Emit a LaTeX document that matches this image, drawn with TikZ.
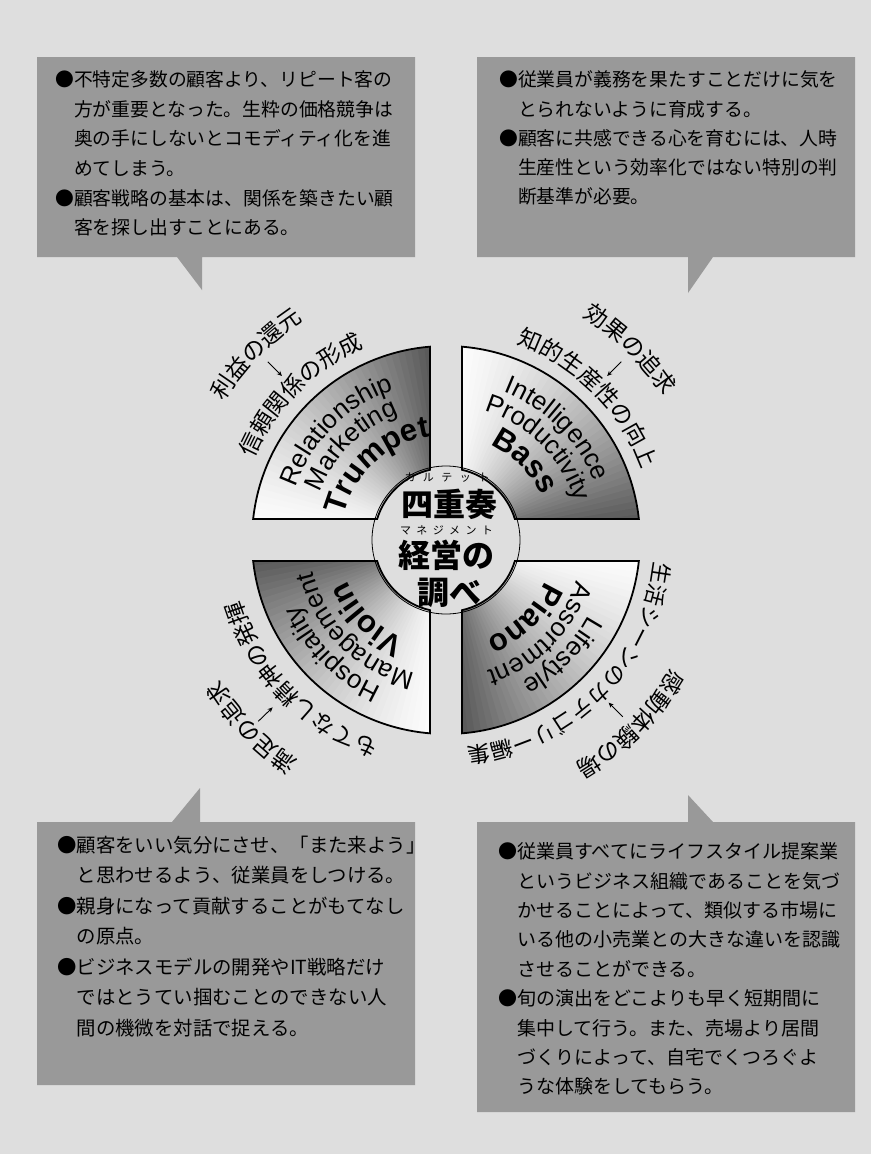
\documentclass[tikz,border=0pt]{standalone}
\usepackage{fontspec}
\setsansfont{Liberation Sans}
\newfontfamily\jp{Noto Sans CJK JP}
\usetikzlibrary{decorations.text,arrows.meta}
\tikzset{
  boxshape/.style={fill=black!40, draw=none},
  boxtext/.style={anchor=north west, inner sep=0pt, align=left, text=black},
  segline/.style={draw=black, line width=1.8pt},
  ringtext/.style={decorate, decoration={text along path, text align=center, text={#1}}},
  inarrow/.style={-{Stealth[length=5pt,width=4.5pt]}, line width=0.9pt},
  centertext/.style={inner sep=0pt, font=\jp\bfseries\fontsize{32}{32}\selectfont},
  rubytext/.style={inner sep=0pt, font=\jp\fontsize{11}{11}\selectfont},
}
% #1 xscale, #2 yscale, #3 reverse gradient (0/1)
\newcommand{\quadrant}[3]{%
 \begin{scope}[shift={(446,-540)}, xscale=#1, yscale=#2]
  \begin{scope}
   \clip (94.73:194pt) arc[start angle=94.73, end angle=173.79, radius=194pt] -- (163.04:72pt) arc[start angle=163.04, end angle=102.84, radius=72pt] -- cycle;
   \foreach \i in {0,...,45} {
     \pgfmathsetmacro\aa{180.4-2*\i}
     \pgfmathsetmacro\ab{178-2*\i-0.4}
     \pgfmathsetmacro\cc{min(66, 72*(abs(#3*45-\i)/45)^1.5)}
     \fill[black!\cc] (0,0) -- (\aa:200pt) arc[start angle=\aa, end angle=\ab, radius=200pt] -- cycle;
   }
  \end{scope}
  \draw[segline] (94.73:194pt) arc[start angle=94.73, end angle=173.79, radius=194pt] -- (163.04:72pt) arc[start angle=163.04, end angle=102.84, radius=72pt] -- cycle;
 \end{scope}}
\newcommand{\en}{\sffamily\fontsize{26}{26}\selectfont}
\newcommand{\enb}{\sffamily\bfseries\fontsize{31}{31}\selectfont}
\newcommand{\jl}{\jp\fontsize{23}{23}\selectfont}
\newcommand{\jls}{\jp\fontsize{22}{22}\selectfont}
\begin{document}
\begin{tikzpicture}[x=1pt,y=1pt]
\useasboundingbox (0,0) rectangle (871,-1154);
\fill[black!13] (0,0) rectangle (871,-1154);

% boxes
\fill[boxshape] (37,-57) -- (415,-57) -- (415,-257) -- (202,-257) -- (202,-290) -- (177,-257) -- (37,-257) -- cycle;
\fill[boxshape] (477,-57) -- (855,-57) -- (855,-257) -- (713,-257) -- (688,-293) -- (688,-257) -- (477,-257) -- cycle;
\fill[boxshape] (37,-822) -- (172,-822) -- (200,-788) -- (200,-822) -- (415,-822) -- (415,-1085) -- (37,-1085) -- cycle;
\fill[boxshape] (477,-822) -- (688,-822) -- (688,-795) -- (713,-822) -- (855,-822) -- (855,-1112) -- (477,-1112) -- cycle;

\node[boxtext, font=\jp\fontsize{18.8}{29.6}\selectfont] (tltext) at (55,-70.6) {●不特定多数の顧客より、リピート客の\\　方が重要となった。生粋の価格競争は\\　奥の手にしないとコモディティ化を進\\　めてしまう。\\●顧客戦略の基本は、関係を築きたい顧\\　客を探し出すことにある。};
\node[boxtext, font=\jp\fontsize{18.8}{29.3}\selectfont] (trtext) at (499,-70.6) {●従業員が義務を果たすことだけに気を\\　とられないように育成する。\\●顧客に共感できる心を育むには、人時\\　生産性という効率化ではない特別の判\\　断基準が必要。};
\node[boxtext, font=\jp\fontsize{19.4}{30.5}\selectfont] (bltext) at (57,-835.5) {●顧客をいい気分にさせ、「また来よう」\\　と思わせるよう、従業員をしつける。\\●親身になって貢献することがもてなし\\　の原点。\\●ビジネスモデルの開発やIT戦略だけ\\　ではとうてい掴むことのできない人\\　間の機微を対話で捉える。};
\node[boxtext, font=\jp\fontsize{19}{29.4}\selectfont] (brtext) at (498,-842.5) {●従業員すべてにライフスタイル提案業\\　というビジネス組織であることを気づ\\　かせることによって、類似する市場に\\　いる他の小売業との大きな違いを認識\\　させることができる。\\●旬の演出をどこよりも早く短期間に\\　集中して行う。また、売場より居間\\　づくりによって、自宅でくつろぐよ\\　うな体験をしてもらう。};

% quadrants
\quadrant{1}{1}{0}
\quadrant{-1}{1}{1}
\quadrant{-1}{-1}{0}
\quadrant{1}{-1}{1}
\draw[line width=0.8pt] (446,-540) circle[radius=74pt];

\begin{scope}[shift={(446,-540)}]
 % Trumpet
 \path[ringtext={|\en|Relationship}] (180:159pt) arc[start angle=180, end angle=90, radius=159pt];
 \path[ringtext={|\en|Marketing}] (180:134.5pt) arc[start angle=180, end angle=90, radius=134.5pt];
 \path[ringtext={|\enb|Trumpet}] (180:105pt) arc[start angle=180, end angle=85, radius=105pt];
 % Bass
 \path[ringtext={|\en|Intelligence}] (90:159pt) arc[start angle=90, end angle=0, radius=159pt];
 \path[ringtext={|\en|Productivity}] (90:134.5pt) arc[start angle=90, end angle=0, radius=134.5pt];
 \path[ringtext={|\enb|Bass}] (90:105pt) arc[start angle=90, end angle=0, radius=105pt];
 % Piano
 \path[ringtext={|\en|Lifestyle}] (0:161pt) arc[start angle=0, end angle=-90, radius=161pt];
 \path[ringtext={|\en|Assortment}] (0:136.5pt) arc[start angle=0, end angle=-90, radius=136.5pt];
 \path[ringtext={|\enb|Piano}] (0:107pt) arc[start angle=0, end angle=-90, radius=107pt];
 % Violin
 \path[ringtext={|\en|Hospitality}] (-90:161pt) arc[start angle=-90, end angle=-180, radius=161pt];
 \path[ringtext={|\en|Management}] (-90:136.5pt) arc[start angle=-90, end angle=-180, radius=136.5pt];
 \path[ringtext={|\enb|Violin}] (-90:107pt) arc[start angle=-90, end angle=-180, radius=107pt];

 % Japanese labels
 \path[ringtext={|\jl|利益の還元}] (180.5:262pt) arc[start angle=180.5, end angle=90.5, radius=262pt];
 \path[ringtext={|\jl|信頼関係の形成}] (180:209pt) arc[start angle=180, end angle=90, radius=209pt];
 \path[ringtext={|\jl|効果の追求}] (91:261pt) arc[start angle=91, end angle=1, radius=261pt];
 \path[ringtext={|\jl|知的生産性の向上}] (90:208pt) arc[start angle=90, end angle=0, radius=208pt];
 \path[ringtext={|\jls|生活シーンのカテゴリー編集}] (0:209pt) arc[start angle=0, end angle=-90, radius=209pt];
 \path[ringtext={|\jl|感動体験の場}] (0:259pt) arc[start angle=0, end angle=-90, radius=259pt];
 \path[ringtext={|\jl|もてなし精神の発揮}] (-91:213pt) arc[start angle=-91, end angle=-181, radius=213pt];
 \path[ringtext={|\jl|満足の追求}] (-91:266pt) arc[start angle=-91, end angle=-181, radius=266pt];

 \coordinate (a1s) at (135:252pt); \coordinate (a1e) at (135:232pt);
 \coordinate (a2s) at (45.5:250pt); \coordinate (a2e) at (45.5:230pt);
 \coordinate (a3s) at (-45:250pt); \coordinate (a3e) at (-45:230pt);
 \coordinate (a4s) at (-136:261pt); \coordinate (a4e) at (-136:241pt);
 \draw[inarrow] (a1s) -- (a1e);
 \draw[inarrow] (a2s) -- (a2e);
 \draw[inarrow] (a3s) -- (a3e);
 \draw[inarrow] (a4s) -- (a4e);
\end{scope}

% center title
\node[rubytext] (ruby1) at (447,-478) {カ\hspace{7.5pt}ル\hspace{7.5pt}テ\hspace{7.5pt}ッ\hspace{7.5pt}ト};
\node[centertext] (title1) at (449,-504) {四重奏};
\node[rubytext] (ruby2) at (446.5,-530) {マ\hspace{5.4pt}ネ\hspace{5.4pt}ジ\hspace{5.4pt}メ\hspace{5.4pt}ン\hspace{5.4pt}ト};
\node[centertext] (title2) at (446,-555) {経営の};
\node[centertext] (title3) at (449,-593) {調べ};
\end{tikzpicture}
\end{document}
